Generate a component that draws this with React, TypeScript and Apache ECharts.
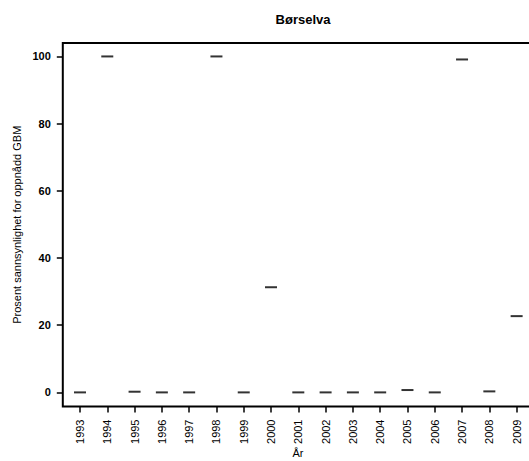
import React, { useEffect, useRef } from "react";
import * as echarts from "echarts";

const years = [1993, 1994, 1995, 1996, 1997, 1998, 1999, 2000, 2001, 2002, 2003, 2004, 2005, 2006, 2007, 2008, 2009];
const values = [0, 100, 0.2, 0, 0, 100, 0, 31.3, 0, 0, 0, 0, 0.7, 0, 99.1, 0.3, 22.7];
const yTicks = [0, 20, 40, 60, 80, 100];

export default function App() {
  const ref = useRef<HTMLDivElement>(null);
  useEffect(() => {
    const chart = echarts.init(ref.current!, null, { renderer: "svg" });
    const font = "'Liberation Sans', Arial, sans-serif";
    chart.setOption({
      animation: false,
      title: {
        text: "Børselva",
        left: 298,
        textAlign: "center",
        top: 8,
        textStyle: { fontFamily: font, fontSize: 13, fontWeight: "bold", color: "#000" },
      },
      grid: {
        left: 62.8,
        right: -4,
        top: 43,
        bottom: 54.5,
        show: true,
        borderColor: "#000",
        borderWidth: 2,
        backgroundColor: "transparent",
        outerBoundsMode: "none",
        containLabel: false,
      },
      xAxis: {
        type: "value",
        min: 1992.37,
        max: 2009.6,
        name: "År",
        nameLocation: "middle",
        nameGap: 41,
        nameMoveOverlap: false,
        nameTextStyle: { fontFamily: font, fontSize: 11, color: "#000" },
        splitLine: { show: false },
        axisLine: { show: false, onZero: false },
        axisTick: { show: true, length: 6, customValues: years, lineStyle: { color: "#000", width: 1.5 } },
        axisLabel: {
          customValues: years,
          rotate: 90,
          margin: 13,
          fontFamily: font,
          fontSize: 11,
          color: "#000",
          formatter: (v: number) => String(v),
        },
      },
      yAxis: {
        type: "value",
        min: -4.2,
        max: 104,
        name: "Prosent sannsynlighet for oppnådd GBM",
        nameLocation: "middle",
        nameGap: 40,
        nameMoveOverlap: false,
        nameRotate: 90,
        nameTextStyle: { fontFamily: font, fontSize: 11, color: "#000" },
        splitLine: { show: false },
        axisLine: { show: false, onZero: false },
        axisTick: { show: true, length: 6, customValues: yTicks, lineStyle: { color: "#000", width: 1.5 } },
        axisLabel: {
          customValues: yTicks,
          margin: 12,
          fontFamily: font,
          fontSize: 11,
          fontWeight: "bold",
          color: "#000",
        },
      },
      series: [
        {
          type: "scatter",
          symbol: "rect",
          symbolSize: [12, 2],
          itemStyle: { color: "#000" },
          data: years.map((y, i) => [y, values[i]]),
        },
      ],
    });
    return () => chart.dispose();
  }, []);
  return <div ref={ref} style={{ width: 529, height: 461, position: "absolute", left: 0, top: 0 }} />;
}
